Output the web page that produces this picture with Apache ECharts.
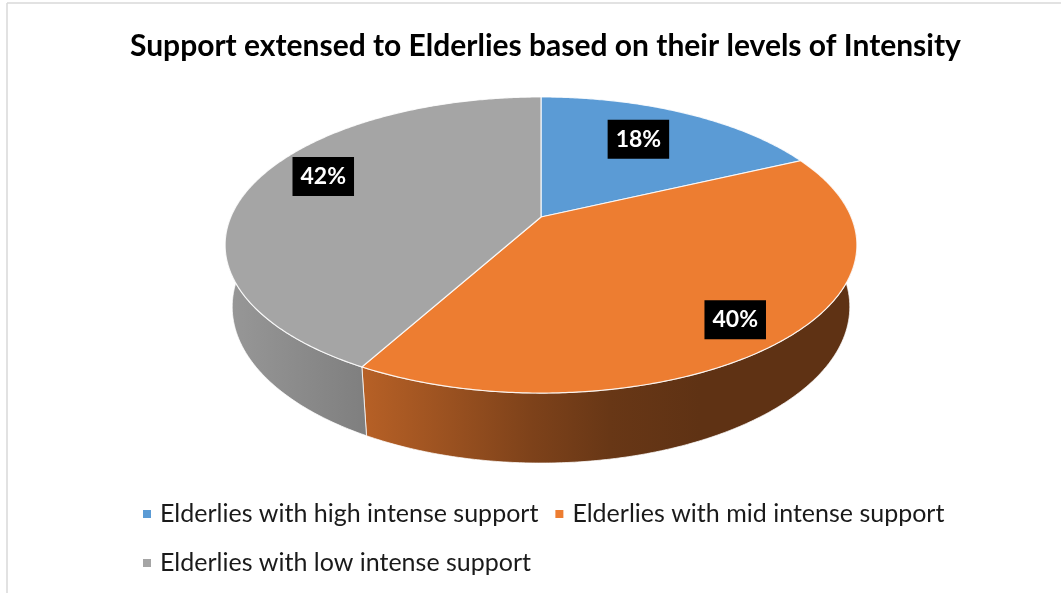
<!DOCTYPE html>
<html>
<head>
<meta charset="utf-8">
<script src="https://cdn.jsdelivr.net/npm/echarts@6/dist/echarts.min.js"></script>
<style>
  html, body { margin: 0; padding: 0; background: #ffffff; }
  #chart { width: 1061px; height: 593px; }
</style>
</head>
<body>
<div id="chart"></div>
<script>
// ---- data ----
const categories = [
  'Elderlies with high intense support',
  'Elderlies with mid intense support',
  'Elderlies with low intense support'
];
const shares = [18, 40, 42];              // percent of elderlies
const colors = ['#5B9BD5', '#ED7D31', '#A5A5A5'];
const titleText = 'Support extensed to Elderlies based on their levels of Intensity';

// ---- 3-D view: a unit disc of given thickness seen by a perspective camera ----
const VIEW = { cx: 541, cy: 217, focal: 1456, dist: 4.694, tilt: 27.4, depth: 0.226 };
// where each percentage tag sits on the disc (radius, angular nudge in degrees)
const LABEL_POS = [{ r: 0.70, da: -2.4 }, { r: 0.84, da: 2.2 }, { r: 0.80, da: 7.6 }];
// brightness of the side wall from left to right (lit from the left)
const WALL_SHADE = [[225, 0.92], [365, 0.77], [450, 0.65], [530, 0.53], [610, 0.44], [700, 0.40], [857, 0.40]];

const total = shares.reduce((a, b) => a + b, 0);
const sinT = Math.sin(VIEW.tilt * Math.PI / 180);
const cosT = Math.cos(VIEW.tilt * Math.PI / 180);

// angle measured clockwise from the far side of the disc; y = height (0 top, negative below)
function project(phiDeg, r, y) {
  const p = phiDeg * Math.PI / 180;
  const X = r * Math.sin(p), Z = -r * Math.cos(p);
  const den = VIEW.dist - Z * cosT - y * sinT;
  return [VIEW.cx + VIEW.focal * X / den, VIEW.cy - VIEW.focal * (y * cosT - Z * sinT) / den];
}

function arc(a0, a1, y) {
  const pts = [];
  const n = Math.max(2, Math.ceil((a1 - a0) / 0.5));
  for (let k = 0; k <= n; k++) pts.push(project(a0 + (a1 - a0) * k / n, 1, y));
  return pts;
}

function shade(hex, f) {
  const n = parseInt(hex.slice(1), 16);
  const r = Math.round(((n >> 16) & 255) * f), g = Math.round(((n >> 8) & 255) * f), b = Math.round((n & 255) * f);
  return 'rgb(' + r + ',' + g + ',' + b + ')';
}

function wallFill(base) {
  const x0 = WALL_SHADE[0][0], x1 = WALL_SHADE[WALL_SHADE.length - 1][0];
  return {
    type: 'linear', x: x0, y: 0, x2: x1, y2: 0, global: true,
    colorStops: WALL_SHADE.map(([x, f]) => ({ offset: (x - x0) / (x1 - x0), color: shade(base, f) }))
  };
}

function sliceRenderer(idx) {
  return function (params, api) {
    const value = api.value(0);
    let before = 0;
    for (let k = 0; k < idx; k++) before += shares[k];
    const a0 = before / total * 360;
    const a1 = a0 + value / total * 360;
    const children = [];

    // outer wall, only the part that faces the viewer
    const w0 = Math.max(a0, 80), w1 = Math.min(a1, 280);
    if (w1 > w0) {
      const top = arc(w0, w1, 0);
      const bottom = arc(w0, w1, -VIEW.depth).reverse();
      children.push({
        type: 'polygon', z2: 1,
        shape: { points: top.concat(bottom) },
        style: { fill: wallFill(colors[idx]), stroke: 'rgba(255,255,255,0.75)', lineWidth: 1 }
      });
    }

    // top face
    const face = [project(0, 0, 0)].concat(arc(a0, a1, 0));
    children.push({
      type: 'polygon', z2: 5,
      shape: { points: face },
      style: { fill: colors[idx], stroke: 'rgba(255,255,255,0.85)', lineWidth: 1.2 }
    });

    // percentage tag
    const lp = LABEL_POS[idx];
    const pos = project((a0 + a1) / 2 + lp.da, lp.r, 0);
    children.push({
      type: 'text', z2: 10,
      x: pos[0], y: pos[1],
      style: {
        text: Math.round(value / total * 100) + '%',
        fill: '#ffffff',
        font: 'bold 23px Lato',
        align: 'center', verticalAlign: 'middle',
        backgroundColor: '#000000',
        padding: [8, 8, 7, 8],
        lineHeight: 24
      }
    });
    return { type: 'group', children: children };
  };
}

const chart = echarts.init(document.getElementById('chart'), null, { renderer: 'canvas' });
chart.setOption({
  animation: false,
  backgroundColor: '#ffffff',
  title: {
    text: titleText,
    left: 125,
    top: 26,
    textStyle: { fontFamily: 'Lato', fontWeight: 'bold', fontSize: 30, color: '#000000' }
  },
  legend: {
    left: 138,
    top: 493,
    width: 840,
    orient: 'horizontal',
    icon: 'rect',
    itemWidth: 8,
    itemHeight: 8,
    itemGap: 17,
    data: categories,
    textStyle: { fontFamily: 'Lato', fontSize: 25, color: '#1a1a1a', lineHeight: 32, padding: [0, 0, 0, 4] }
  },
  graphic: [
    { type: 'line', shape: { x1: 7, y1: 3, x2: 1061, y2: 3 }, style: { stroke: '#d9d9d9', lineWidth: 1.5 } },
    { type: 'line', shape: { x1: 7, y1: 3, x2: 7, y2: 593 }, style: { stroke: '#d9d9d9', lineWidth: 1.5 } }
  ],
  series: categories.map((name, i) => ({
    type: 'custom',
    name: name,
    coordinateSystem: 'none',
    itemStyle: { color: colors[i] },
    data: [[shares[i]]],
    renderItem: sliceRenderer(i)
  }))
});
</script>
</body>
</html>
